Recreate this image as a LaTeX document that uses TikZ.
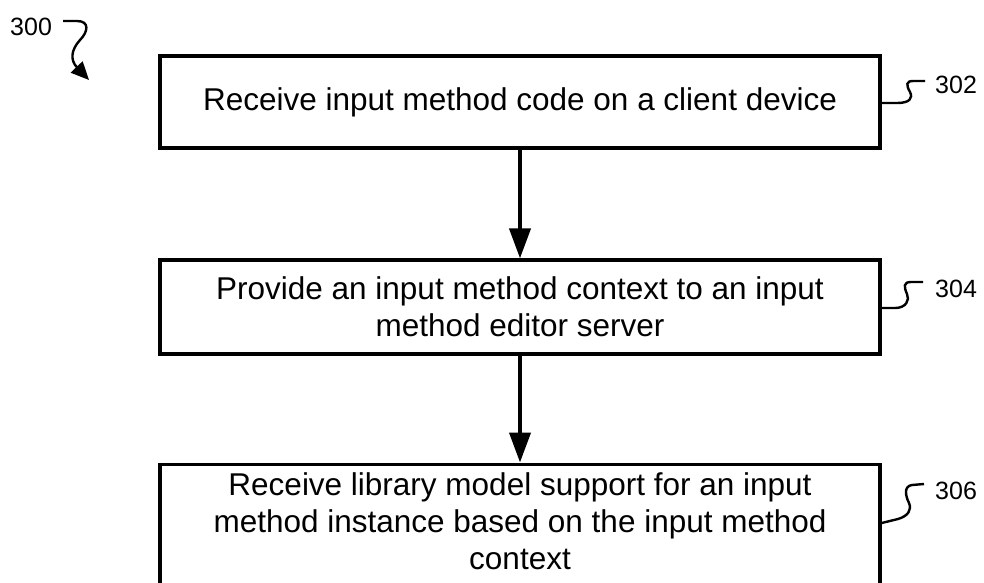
\documentclass[tikz,border=0pt]{standalone}
\usepackage{fontspec}
\setmainfont{Liberation Sans}
\usetikzlibrary{arrows.meta}
\begin{document}
\begin{tikzpicture}[x=1pt,y=-1pt,
  stepbox/.style={draw, line width=3.2pt, minimum width=720pt, inner sep=0pt, align=center,
    font=\fontsize{31.5}{37}\selectfont},
  boxtext/.style={inner sep=0pt, align=center, font=\fontsize{31.5}{37}\selectfont},
  flow/.style={line width=4pt, -{Triangle[length=30pt,width=21pt]}},
  refline/.style={line width=2.4pt},
  reflabel/.style={font=\fontsize{25}{28}\selectfont, anchor=base west, inner sep=0pt}]
\useasboundingbox (0,0) rectangle (984,582);
\node[stepbox, minimum height=92pt] (b1) at (520,102) {Receive input method code on a client device};
\node[stepbox, minimum height=94pt] (b2) at (520,307) {Provide an input method context to an input\\method editor server};
\node[stepbox, minimum height=150pt, anchor=north] (b3) at (520,462.5) {};
\node[boxtext] (t3) at (520,521) {Receive library model support for an input\\method instance based on the input method\\context};
\draw[flow] (b1) -- (b2);
\draw[flow] (b2) -- (b3);
% reference labels
\node[reflabel] (l300) at (10,35) {300};
\node[reflabel] (l302) at (935,93) {302};
\node[reflabel] (l304) at (935,297) {304};
\node[reflabel] (l306) at (935,499) {306};
\coordinate (c302) at (925,81);
\coordinate (c304) at (923,282);
\coordinate (c306) at (924,484);
\coordinate (c300s) at (63,21);
\coordinate (c300e) at (89,80);
\draw[refline] ([yshift=-1pt]b1.east) -- (897,103) .. controls (910,103) and (913,98) .. (910,92)
  .. controls (906,85) and (906,81) .. (913,81) -- (c302);
\draw[refline] ([yshift=-1pt]b2.east) -- (895,308) .. controls (906,308) and (910,300) .. (907,294)
  .. controls (904,287) and (903,282) .. (911,282) -- (c304);
\draw[refline] ([yshift=-60.5pt]b3.north east) -- (898,519) .. controls (908,516) and (912,510) .. (909,503)
  .. controls (905,495) and (904,486) .. (912,485) -- (c306);
\draw[refline, -{Triangle[length=18pt,width=16pt]}] (c300s) -- (77,21) .. controls (90,21) and (88,32) .. (80,40)
  .. controls (71,50) and (70,60) .. (c300e);
\end{tikzpicture}
\end{document}
